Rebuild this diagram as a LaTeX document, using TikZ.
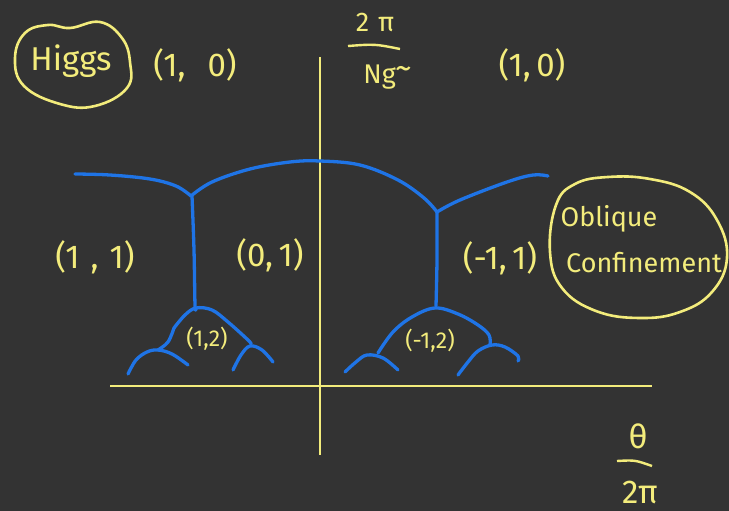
\documentclass[tikz,border=0pt]{standalone}
\usepackage{fontspec}
\setmainfont{Fira Sans}
\usetikzlibrary{shapes.geometric}
\definecolor{bgc}{HTML}{333333}
\definecolor{yel}{HTML}{F3EC7C}
\definecolor{blu}{HTML}{1F74E6}
\tikzset{
  lab/.style={text=yel, font=\fontsize{33}{36}\selectfont, inner sep=0pt},
  midlab/.style={text=yel, font=\fontsize{27}{30}\selectfont, inner sep=0pt},
  smalllab/.style={text=yel, font=\fontsize{23}{26}\selectfont, inner sep=0pt},
  axis/.style={draw=yel, line width=2.9pt},
  ring/.style={draw=yel, line width=2.6pt},
  wall/.style={draw=blu, line width=3.3pt, line cap=round, line join=round},
}
\begin{document}
\begin{tikzpicture}[x=1pt,y=-1pt]
\fill[bgc] (0,0) rectangle (729,511);
\useasboundingbox (0,0) rectangle (729,511);

% axes
\coordinate (vtop) at (320,57);
\coordinate (vbot) at (320,455);
\coordinate (hl) at (110,386);
\coordinate (hr) at (652,386);
\draw[axis] (vtop) -- (vbot);
\draw[axis] (hl) -- (hr);

% blue domain walls
\draw[wall] plot[smooth, tension=0.6] coordinates {(75,174) (110,175) (150,179) (176,186) (191,196)};
\draw[wall] plot[smooth, tension=0.6] coordinates {(191,196) (212,182) (250,169) (290,162) (320,161) (360,165) (398,180) (424,198) (437,212)};
\draw[wall] plot[smooth, tension=0.6] coordinates {(437,212) (460,200) (507,182) (533,175) (548,176)};
\draw[wall] plot[smooth, tension=0.6] coordinates {(192,196) (194,250) (195,305) (196,308)};
\draw[wall] plot[smooth, tension=0.6] coordinates {(437,212) (437,260) (436,306)};

% left bottom tree
\draw[wall] plot[smooth, tension=0.6] coordinates {(174,328) (185,315) (196,308) (212,310) (228,322) (248,340) (251,344)};
\draw[wall] plot[smooth, tension=0.6] coordinates {(174,328) (168,342) (158,350)};
\draw[wall] plot[smooth, tension=0.6] coordinates {(128,374) (136,360) (147,352) (158,350) (172,354) (188,365)};
\draw[wall] plot[smooth, tension=0.6] coordinates {(233,370) (241,355) (250,346) (262,350) (273,362)};

% right bottom tree
\draw[wall] plot[smooth, tension=0.6] coordinates {(378,353) (393,332) (412,317) (435,308) (458,314) (478,325) (489,335) (490,345)};
\draw[wall] plot[smooth, tension=0.6] coordinates {(345,372) (356,362) (367,355) (383,358) (398,370)};
\draw[wall] plot[smooth, tension=0.6] coordinates {(458,375) (468,362) (478,351) (492,345) (505,347) (518,356) (518,361)};

% labels
\node[lab] (higgs) at (71,61) {Higgs};
\draw[ring] plot[smooth cycle, tension=0.7] coordinates {(48,25) (70,28) (100,22) (122,38) (130,62) (127,88) (95,106) (60,104) (24,86) (15,58) (25,33)};
\node[lab] (hl10) at (195,65) {(1,\,\,\,\,0)};
\node[midlab] (num) at (375,22) {2\,\,π};
\draw[yel, line width=2.4pt] (348,46) .. controls (375,44) .. (400,49);
\node[midlab] (den) at (388,77) {Ng\raisebox{0.3ex}{\fontsize{34}{34}\selectfont\char`~}};
\node[lab] (hr10) at (532,65) {(1,\,0)};

\node[lab] (p11) at (95,257) {(1\,\,,\,\,1)};
\node[lab] (p01) at (270,255) {(0,\,1)};
\node[lab] (pm11) at (500,258) {(-1,\,1)};
\node[smalllab] (p12) at (207,339) {(1,2)};
\node[smalllab] (pm12) at (430,341) {(-1,2)};

\node[midlab] (obl) at (609,219) {Oblique};
\node[midlab] (conf) at (644,263) {Confinement};
\draw[ring] plot[smooth cycle, tension=0.7] coordinates {(608,177) (650,179) (690,192) (717,220) (727,258) (712,292) (680,312) (640,318) (596,311) (562,288) (550,252) (556,205) (575,184)};

\node[lab] (th) at (638,436) {θ};
\draw[yel, line width=2.4pt] (617,461) .. controls (635,460) .. (652,466);
\node[lab] (twopi) at (640,492) {2π};
\end{tikzpicture}
\end{document}
